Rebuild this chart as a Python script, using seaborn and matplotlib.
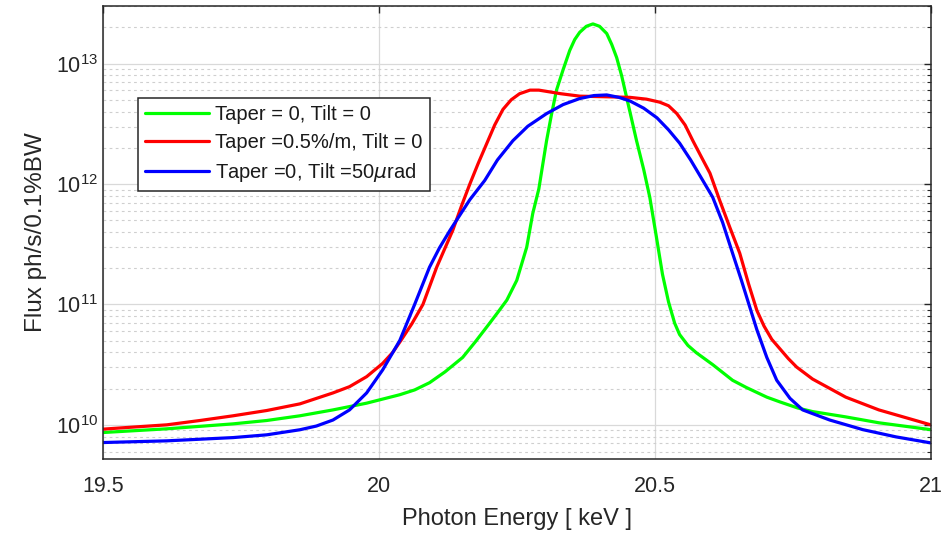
import numpy as np
import pandas as pd
import matplotlib
matplotlib.use("Agg")
import matplotlib.pyplot as plt
import seaborn as sns
from matplotlib.ticker import LogLocator, FixedLocator, NullFormatter

# Values (energy in keV, flux as log10)
energy_green = [19.5, 19.616, 19.736, 19.797, 19.857, 19.917, 19.978, 20.038, 20.065,
                20.092, 20.12, 20.152, 20.175, 20.201, 20.215, 20.232, 20.25, 20.268,
                20.279, 20.29, 20.304, 20.313, 20.322, 20.334, 20.346, 20.355, 20.364,
                20.376, 20.388, 20.40, 20.413, 20.422, 20.431, 20.44, 20.449, 20.467,
                20.48, 20.491, 20.503, 20.514, 20.525, 20.536, 20.545, 20.56, 20.575,
                20.605, 20.641, 20.666, 20.703, 20.727, 20.759, 20.786, 20.846, 20.906,
                21.0]
logflux_green = [9.936, 9.967, 10.008, 10.036, 10.075, 10.124, 10.18, 10.25, 10.29,
                 10.35, 10.44, 10.56, 10.69, 10.845, 10.93, 11.036, 11.20, 11.475,
                 11.756, 11.96, 12.36, 12.58, 12.78, 12.95, 13.11, 13.20, 13.26,
                 13.31, 13.33, 13.31, 13.25, 13.16, 13.05, 12.90, 12.72, 12.36,
                 12.12, 11.89, 11.56, 11.25, 11.02, 10.845, 10.75, 10.66, 10.60,
                 10.50, 10.37, 10.31, 10.23, 10.19, 10.14, 10.11, 10.066, 10.017,
                 9.96]

energy_red = [19.5, 19.554, 19.616, 19.676, 19.736, 19.797, 19.857, 19.917, 19.947,
              19.978, 20.007, 20.025, 20.04, 20.06, 20.08, 20.105, 20.134, 20.15,
              20.165, 20.18, 20.195, 20.21, 20.225, 20.24, 20.255, 20.274, 20.29,
              20.33, 20.364, 20.41, 20.455, 20.485, 20.509, 20.525, 20.54, 20.555,
              20.569, 20.585, 20.60, 20.618, 20.636, 20.654, 20.67, 20.685, 20.698,
              20.712, 20.727, 20.742, 20.757, 20.786, 20.846, 20.906, 21.0]
logflux_red = [9.964, 9.981, 10.0, 10.036, 10.075, 10.119, 10.174, 10.265, 10.317,
               10.40, 10.51, 10.60, 10.70, 10.84, 11.0, 11.31, 11.615, 11.82,
               12.0, 12.17, 12.33, 12.49, 12.62, 12.70, 12.75, 12.78, 12.78,
               12.75, 12.73, 12.725, 12.72, 12.705, 12.68, 12.65, 12.585, 12.49,
               12.36, 12.22, 12.09, 11.86, 11.64, 11.425, 11.17, 10.95, 10.82,
               10.71, 10.63, 10.55, 10.48, 10.38, 10.23, 10.124, 10.0]

energy_blue = [19.5, 19.616, 19.736, 19.797, 19.857, 19.887, 19.917, 19.947, 19.978,
               20.007, 20.038, 20.065, 20.092, 20.11, 20.129, 20.141, 20.165, 20.192,
               20.215, 20.243, 20.27, 20.304, 20.334, 20.364, 20.39, 20.413, 20.435,
               20.455, 20.48, 20.504, 20.525, 20.545, 20.565, 20.587, 20.605, 20.623,
               20.641, 20.657, 20.672, 20.685, 20.703, 20.721, 20.745, 20.768, 20.817,
               20.877, 20.937, 21.0]
logflux_blue = [9.853, 9.867, 9.894, 9.917, 9.959, 9.99, 10.04, 10.124, 10.265,
                10.456, 10.70, 11.0, 11.31, 11.47, 11.615, 11.70, 11.87, 12.03,
                12.20, 12.36, 12.48, 12.585, 12.66, 12.71, 12.735, 12.74, 12.72,
                12.69, 12.63, 12.55, 12.45, 12.34, 12.20, 12.03, 11.89, 11.68,
                11.425, 11.20, 10.98, 10.79, 10.56, 10.37, 10.22, 10.124, 10.04,
                9.96, 9.90, 9.85]

labels = ["Taper = 0, Tilt = 0", "Taper =0.5%/m, Tilt = 0", r"Taper =0, Tilt =50$\mu$rad"]
colors = ["#00ff00", "#ff0000", "#0000ff"]

sns.set_style("white")
plt.rcParams['font.family'] = ['Liberation Sans', 'DejaVu Sans']
plt.rcParams['mathtext.fontset'] = 'dejavusans'

text_col = "#262626"

fig = plt.figure(figsize=(9.43, 5.34), dpi=100)
ax = fig.add_axes([0.109, 0.1404, 0.878, 0.848])

series = [(energy_green, logflux_green), (energy_red, logflux_red), (energy_blue, logflux_blue)]
for (e, lf), lab, col in zip(series, labels, colors):
    df = pd.DataFrame({"energy": e, "flux": np.power(10.0, lf)})
    sns.lineplot(data=df, x="energy", y="flux", ax=ax, color=col, linewidth=2.3,
                 label=lab, sort=False, estimator=None)
for ln in ax.get_lines():
    ln.set_solid_joinstyle("round")

ax.set_yscale("log")
ax.set_xlim(19.5, 21)
ax.set_ylim(5.2e9, 3e13)
ax.xaxis.set_major_locator(FixedLocator([19.5, 20, 20.5, 21]))
ax.set_xticklabels(["19.5", "20", "20.5", "21"])
ax.yaxis.set_major_locator(LogLocator(base=10, numticks=10))
ax.yaxis.set_minor_locator(LogLocator(base=10, subs=np.arange(2, 10), numticks=20))
ax.yaxis.set_minor_formatter(NullFormatter())

ax.grid(which="major", axis="both", color="#d9d9d9", linestyle="-", linewidth=0.9)
ax.grid(which="minor", axis="y", color="#cfcfcf", linestyle=(0, (2.5, 3)), linewidth=0.8)
ax.set_axisbelow(True)

ax.tick_params(axis="both", which="both", direction="in", top=True, right=True,
               colors=text_col, labelsize=15.5, labelcolor=text_col)
ax.tick_params(axis="both", which="major", length=5, width=1)
ax.tick_params(axis="y", which="minor", length=3, width=0.8)
ax.tick_params(axis="x", pad=12)
for s in ax.spines.values():
    s.set_color(text_col)
    s.set_linewidth(1.1)

ax.set_xlabel("Photon Energy [ keV ]", fontsize=17, color=text_col, labelpad=8)
ax.set_ylabel("Flux ph/s/0.1%BW", fontsize=17.5, color=text_col, labelpad=6)

leg = ax.legend(loc="upper left", bbox_to_anchor=(0.042, 0.797), fontsize=14.5,
                frameon=True, fancybox=False, edgecolor="#262626", framealpha=1,
                handlelength=3.2, handletextpad=0.3, labelspacing=0.45,
                borderpad=0.35, borderaxespad=0)
leg.get_frame().set_linewidth(1.1)
for t in leg.get_texts():
    t.set_color("#1a1a1a")

fig.savefig("out.png", dpi=100)
